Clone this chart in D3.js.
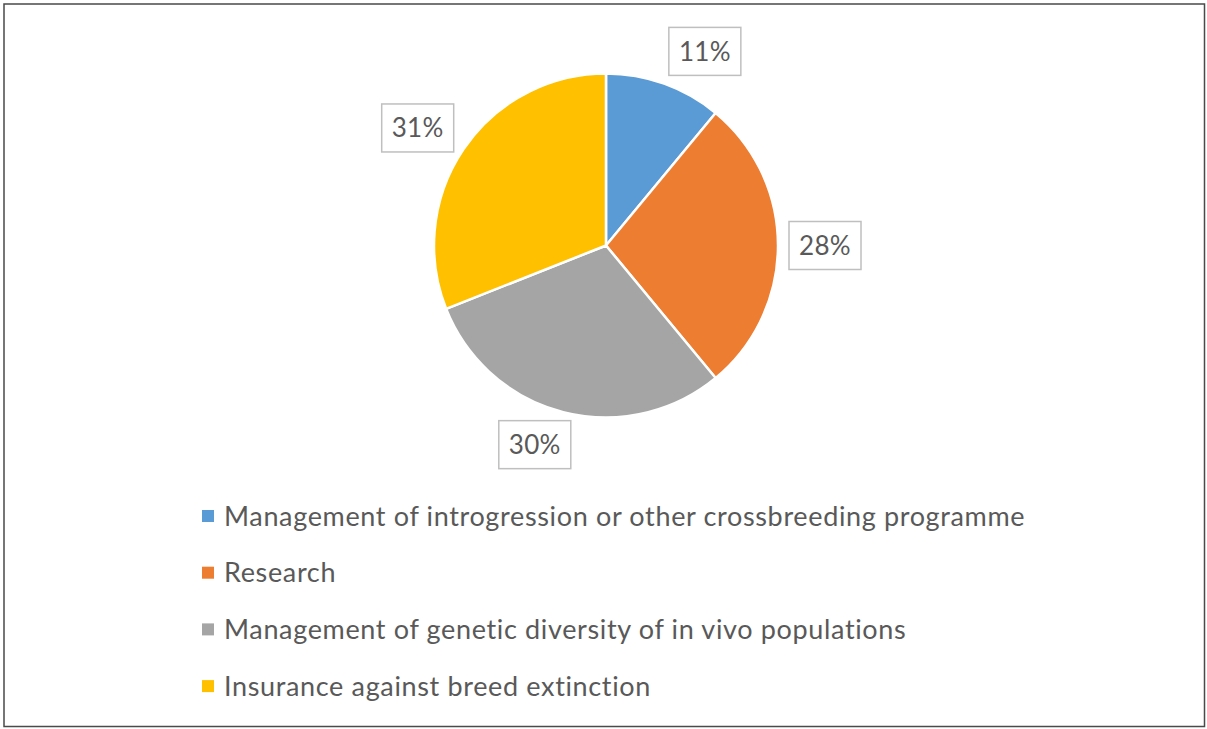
<!DOCTYPE html>
<html>
<head>
<meta charset="utf-8">
<script src="https://cdn.jsdelivr.net/npm/d3@7"></script>
<style>
  html, body { margin: 0; padding: 0; background: #fff; }
  svg { display: block; }
  text { font-family: Lato, "Open Sans", sans-serif; fill: #595959; }
</style>
</head>
<body>
<svg id="chart" width="1207" height="729"></svg>
<script>
// Purposes of the collections, in drawing order (clockwise from 12 o'clock)
const categories = [
  "Management of introgression or other crossbreeding programme",
  "Research",
  "Management of genetic diversity of in vivo populations",
  "Insurance against breed extinction"
];
const shares = [11, 28, 30, 31];
const colors = ["#5B9BD5", "#ED7D31", "#A5A5A5", "#FFC000"];

const W = 1207, H = 729;
const svg = d3.select("#chart");

// outer frame
svg.append("rect")
  .attr("x", 4).attr("y", 4)
  .attr("width", W - 6.5).attr("height", H - 6.5)
  .attr("fill", "#fff")
  .attr("stroke", "#4a4a4a")
  .attr("stroke-width", 1.5);

const cx = 606, cy = 245.5, radius = 172;

const pie = d3.pie().sort(null).value(d => d);
const arcs = pie(shares);
const arc = d3.arc().innerRadius(0).outerRadius(radius);

const g = svg.append("g").attr("transform", `translate(${cx},${cy})`);

g.selectAll("path.slice")
  .data(arcs)
  .enter().append("path")
  .attr("class", "slice")
  .attr("d", arc)
  .attr("fill", (d, i) => colors[i])
  .attr("stroke", "#fff")
  .attr("stroke-width", 2.5)
  .attr("stroke-linejoin", "round");

// data labels: boxed, placed outside the slice along its mid angle
const labelRadius = 218;
const labelNudge = [[25, 11], [1, 0], [-17, -12], [-8, 5]];
const boxW = 72, boxH = 48;

const labels = g.selectAll("g.lbl")
  .data(arcs)
  .enter().append("g")
  .attr("class", "lbl")
  .attr("transform", (d, i) => {
    const a = (d.startAngle + d.endAngle) / 2;
    const x = labelRadius * Math.sin(a) + labelNudge[i][0];
    const y = -labelRadius * Math.cos(a) + labelNudge[i][1];
    return `translate(${x},${y})`;
  });

labels.append("rect")
  .attr("x", -boxW / 2).attr("y", -boxH / 2)
  .attr("width", boxW).attr("height", boxH)
  .attr("fill", "#fff")
  .attr("stroke", "#BFBFBF")
  .attr("stroke-width", 1.5);

labels.append("text")
  .attr("text-anchor", "middle")
  .attr("dy", "0.36em")
  .style("font-size", "26px")
  .style("letter-spacing", "0.3px")
  .text(d => d.data + "%");

// legend
const legendX = 202, legendY0 = 516, legendStep = 56.7;
const legend = svg.selectAll("g.leg")
  .data(categories)
  .enter().append("g")
  .attr("class", "leg")
  .attr("transform", (d, i) => `translate(${legendX},${legendY0 + i * legendStep})`);

legend.append("rect")
  .attr("x", 0).attr("y", -6)
  .attr("width", 12).attr("height", 12)
  .attr("fill", (d, i) => colors[i]);

legend.append("text")
  .attr("x", 22)
  .attr("dy", "0.36em")
  .style("font-size", "27px")
  .style("letter-spacing", "0.65px")
  .text(d => d);
</script>
</body>
</html>
